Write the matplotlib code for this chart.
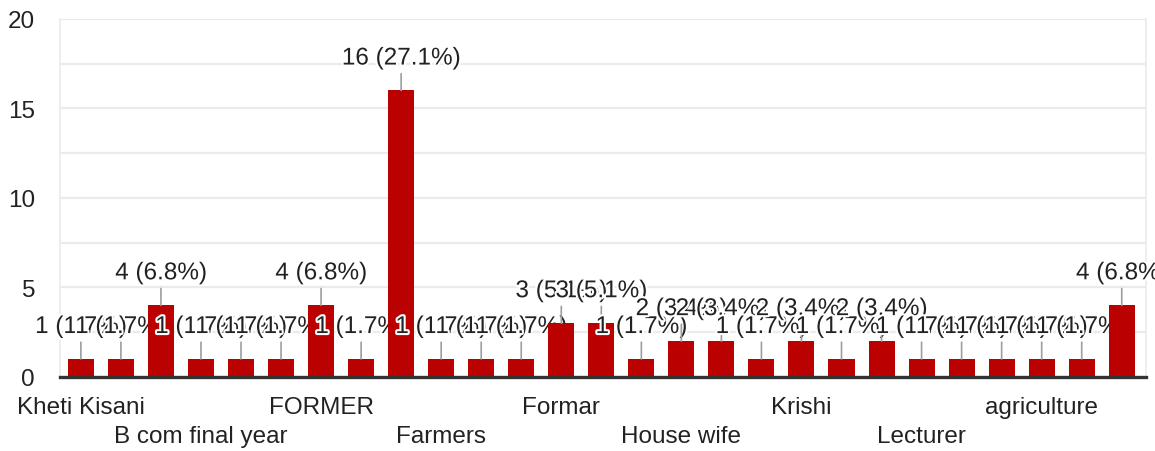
import numpy as np
import matplotlib.pyplot as plt
import matplotlib.patheffects as pe

plt.rcParams['font.family'] = ['Liberation Sans', 'DejaVu Sans']

# answer counts per occupation, in the order the form lists them
counts = [1, 1, 4, 1, 1, 1, 4, 1, 16, 1, 1, 1, 3, 3, 1, 2, 2, 1, 2, 1, 2, 1, 1, 1, 1, 1, 4]
# only every third category name is printed under the axis
shown_labels = ['Kheti Kisani', 'B com final year', 'FORMER', 'Farmers', 'Formar',
                'House wife', 'Krishi', 'Lecturer', 'agriculture']
label_step = 3

RED = '#bb0000'
TEXT = '#222222'
FS = 17.5

total = sum(counts)

fig = plt.figure(figsize=(11.55, 4.52), dpi=100)
ax = fig.add_axes([0.052, 0.164, 0.940, 0.792])

for i, v in enumerate(counts):
    ax.bar(i, v, width=0.65, color=RED, zorder=3 + 2 * i)
    ax.annotate(f'{v} ({v / total * 100:.1f}%)', xy=(i, v), xytext=(0, 23),
                textcoords='offset points', ha='center', va='center',
                fontsize=FS, color=TEXT, zorder=4 + 2 * i,
                path_effects=[pe.withStroke(linewidth=3, foreground='white')],
                arrowprops=dict(arrowstyle='-', color='#9e9e9e', lw=1.2,
                                shrinkA=1, shrinkB=0),
                annotation_clip=False)

# alternate the printed names between two rows
ticks = np.arange(len(counts))[::label_step]
ticklabels = [lab if k % 2 == 0 else '\n' + lab for k, lab in enumerate(shown_labels)]
ax.set_xticks(ticks)
ax.set_xticklabels(ticklabels, linespacing=1.42)
ax.set_xlim(-0.52, len(counts) - 0.4)

ax.set_ylim(0, 20)
ax.set_yticks(np.arange(0, 21, 5))
ax.set_yticks(np.arange(2.5, 20, 5), minor=True)
ax.grid(axis='y', which='both', color='#ebebeb', lw=1.6, zorder=0)
ax.set_axisbelow(True)

ax.tick_params(axis='x', length=0, pad=14, labelsize=FS, colors=TEXT)
ax.tick_params(axis='y', which='both', length=0, pad=18, labelsize=FS, colors=TEXT)

for side in ['left', 'right']:
    ax.spines[side].set_color('#ebebeb')
    ax.spines[side].set_linewidth(1.2)
ax.spines['top'].set_visible(False)
ax.spines['bottom'].set_color('#333333')
ax.spines['bottom'].set_linewidth(2.4)
ax.spines['bottom'].set_zorder(200)

fig.savefig('out.png', dpi=100)
